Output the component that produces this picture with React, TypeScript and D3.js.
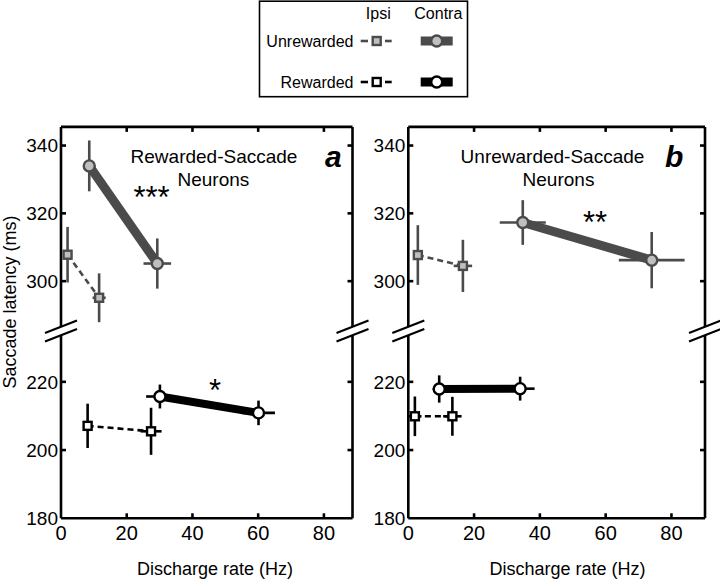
import React from "react";
import * as d3 from "d3";

// ---- data ----
const xTicks = [0, 20, 40, 60, 80];
const yTicks = [180, 200, 220, 300, 320, 340];
const panelLabels = ["a", "b"];
const panelTitles = [["Rewarded-Saccade", "Neurons"], ["Unrewarded-Saccade", "Neurons"]];
const significance = [["***", "*"], ["**", ""]];

// panel a
const aUnrIpsiX = [2.0, 11.6];
const aUnrIpsiY = [307.8, 295.1];
const aUnrIpsiXErr = [1.0, 2.0];
const aUnrIpsiYErr = [8.2, 7.2];
const aUnrConX = [8.6, 29.3];
const aUnrConY = [334.0, 305.2];
const aUnrConXErr = [1.2, 4.2];
const aUnrConYErr = [7.5, 7.4];
const aRewIpsiX = [8.1, 27.4];
const aRewIpsiY = [207.1, 205.5];
const aRewIpsiXErr = [1.0, 3.2];
const aRewIpsiYErr = [6.5, 6.9];
const aRewConX = [30.1, 60.1];
const aRewConY = [215.7, 210.9];
const aRewConXErr = [4.2, 5.0];
const aRewConYErr = [3.5, 3.6];

// panel b
const bUnrIpsiX = [2.9, 16.6];
const bUnrIpsiY = [307.7, 304.5];
const bUnrIpsiXErr = [1.0, 2.8];
const bUnrIpsiYErr = [8.8, 7.7];
const bUnrConX = [34.8, 74.0];
const bUnrConY = [317.3, 306.2];
const bUnrConXErr = [7.0, 10.0];
const bUnrConYErr = [6.6, 8.3];
const bRewIpsiX = [2.0, 13.4];
const bRewIpsiY = [209.9, 209.9];
const bRewIpsiXErr = [2.0, 2.8];
const bRewIpsiYErr = [5.8, 5.7];
const bRewConX = [9.4, 34.0];
const bRewConY = [217.9, 218.0];
const bRewConXErr = [2.0, 4.4];
const bRewConYErr = [4.0, 3.5];

const FONT = "'Liberation Sans', Arial, Helvetica, sans-serif";
const GRAY = "#4b4b4b";
const LIGHT = "#bfbfbf";

type Series = { x: number[]; y: number[]; xe: number[]; ye: number[] };
const mk = (x: number[], y: number[], xe: number[], ye: number[]): Series => ({ x, y, xe, ye });

const panels = [
  {
    xRange: [61, 352.5], xMax: 88.7,
    unrIpsi: mk(aUnrIpsiX, aUnrIpsiY, aUnrIpsiXErr, aUnrIpsiYErr),
    unrCon: mk(aUnrConX, aUnrConY, aUnrConXErr, aUnrConYErr),
    rewIpsi: mk(aRewIpsiX, aRewIpsiY, aRewIpsiXErr, aRewIpsiYErr),
    rewCon: mk(aRewConX, aRewConY, aRewConXErr, aRewConYErr),
    titleX: [214, 213.4], labelX: 325, starPos: [[151.5, 208], [215, 401]], xLabelX: 215,
  },
  {
    xRange: [408.3, 705], xMax: 90.2,
    unrIpsi: mk(bUnrIpsiX, bUnrIpsiY, bUnrIpsiXErr, bUnrIpsiYErr),
    unrCon: mk(bUnrConX, bUnrConY, bUnrConXErr, bUnrConYErr),
    rewIpsi: mk(bRewIpsiX, bRewIpsiY, bRewIpsiXErr, bRewIpsiYErr),
    rewCon: mk(bRewConX, bRewConY, bRewConXErr, bRewConYErr),
    titleX: [552.5, 558.5], labelX: 665, starPos: [[595, 233], [0, 0]], xLabelX: 567.5,
  },
];

const y = d3.scaleLinear().domain([180, 234.9, 285.3, 345.5]).range([518.3, 331, 331, 126.9]);
const yTop = 126.9;
const yBot = 518.3;
const yBreak = 331;

function ErrorBars({ s, x, color }: { s: Series; x: d3.ScaleLinear<number, number>; color: string }) {
  return (
    <g stroke={color} strokeWidth={2.6} fill="none">
      {s.x.map((xv, i) => (
        <g key={i}>
          <line x1={x(xv)} x2={x(xv)} y1={y(s.y[i] - s.ye[i])} y2={y(s.y[i] + s.ye[i])} />
          <line x1={x(xv - s.xe[i])} x2={x(xv + s.xe[i])} y1={y(s.y[i])} y2={y(s.y[i])} />
        </g>
      ))}
    </g>
  );
}

function SeriesLine({ s, x, color, width, dashed }: { s: Series; x: d3.ScaleLinear<number, number>; color: string; width: number; dashed?: boolean }) {
  const gen = d3.line<number>().x((d) => x(d)).y((d, i) => y(s.y[i]));
  return <path d={gen(s.x) || ""} stroke={color} strokeWidth={width} fill="none" strokeDasharray={dashed ? "6,4" : undefined} />;
}

function Squares({ s, x, stroke, fill }: { s: Series; x: d3.ScaleLinear<number, number>; stroke: string; fill: string }) {
  return (
    <g>
      {s.x.map((xv, i) => (
        <rect key={i} x={x(xv) - 4} y={y(s.y[i]) - 4} width={8} height={8} fill={fill} stroke={stroke} strokeWidth={2.4} />
      ))}
    </g>
  );
}

function Circles({ s, x, stroke, fill }: { s: Series; x: d3.ScaleLinear<number, number>; stroke: string; fill: string }) {
  return (
    <g>
      {s.x.map((xv, i) => (
        <circle key={i} cx={x(xv)} cy={y(s.y[i])} r={5.5} fill={fill} stroke={stroke} strokeWidth={2.4} />
      ))}
    </g>
  );
}

function BreakMark({ cx }: { cx: number }) {
  const half = 16;
  const slope = -12.5 / 32;
  const gap = 4.3;
  const pts = (dy: number) => [
    [cx - half, yBreak + dy - slope * half],
    [cx + half, yBreak + dy + slope * half],
  ];
  const up = pts(-gap);
  const lo = pts(gap);
  return (
    <g>
      <polygon points={`${up[0][0]},${up[0][1]} ${up[1][0]},${up[1][1]} ${lo[1][0]},${lo[1][1]} ${lo[0][0]},${lo[0][1]}`} fill="#fff" />
      <line x1={up[0][0]} y1={up[0][1]} x2={up[1][0]} y2={up[1][1]} stroke="#000" strokeWidth={2.2} />
      <line x1={lo[0][0]} y1={lo[0][1]} x2={lo[1][0]} y2={lo[1][1]} stroke="#000" strokeWidth={2.2} />
    </g>
  );
}

function Panel({ p, idx }: { p: (typeof panels)[number]; idx: number }) {
  const x = d3.scaleLinear().domain([0, p.xMax]).range(p.xRange);
  const L = p.xRange[0];
  const R = p.xRange[1];
  const tl = 5;
  return (
    <g>
      <g stroke="#000" strokeWidth={2.6} fill="none">
        <line x1={L} x2={R} y1={yTop} y2={yTop} />
        <line x1={L} x2={R} y1={yBot} y2={yBot} />
        <line x1={L} x2={L} y1={yTop} y2={yBot} />
        <line x1={R} x2={R} y1={yTop} y2={yBot} />
        {xTicks.filter((t) => t > 0).map((t) => (
          <g key={t}>
            <line x1={x(t)} x2={x(t)} y1={yBot} y2={yBot - tl} />
            <line x1={x(t)} x2={x(t)} y1={yTop} y2={yTop + tl} />
          </g>
        ))}
        {yTicks.filter((t) => t > 180).map((t) => (
          <g key={t}>
            <line x1={L} x2={L + tl} y1={y(t)} y2={y(t)} />
            <line x1={R} x2={R - tl} y1={y(t)} y2={y(t)} />
          </g>
        ))}
      </g>
      <BreakMark cx={L} />
      <BreakMark cx={R} />
      <g fontFamily={FONT} fill="#000">
        {xTicks.map((t) => (
          <text key={t} x={x(t)} y={539.5} textAnchor="middle" fontSize={20}>{t}</text>
        ))}
        {yTicks.map((t) => (
          <text key={t} x={L - 3} y={y(t) + 6.8} textAnchor="end" fontSize={19}>{t}</text>
        ))}
      </g>
      <text x={p.xLabelX} y={575} fontFamily={FONT} fontSize={18} textAnchor="middle">Discharge rate (Hz)</text>
      <g fontFamily={FONT} fontSize={19} textAnchor="middle">
        <text x={p.titleX[0]} y={162.7}>{panelTitles[idx][0]}</text>
        <text x={p.titleX[1]} y={186}>{panelTitles[idx][1]}</text>
      </g>
      <text x={p.labelX} y={167} fontFamily={FONT} fontSize={30} fontWeight="bold" fontStyle="italic">{panelLabels[idx]}</text>
      <ErrorBars s={p.unrIpsi} x={x} color={GRAY} />
      <ErrorBars s={p.unrCon} x={x} color={GRAY} />
      <ErrorBars s={p.rewIpsi} x={x} color="#000" />
      <ErrorBars s={p.rewCon} x={x} color="#000" />
      <SeriesLine s={p.unrIpsi} x={x} color={GRAY} width={2.6} dashed />
      <SeriesLine s={p.rewIpsi} x={x} color="#000" width={2.6} dashed />
      <SeriesLine s={p.unrCon} x={x} color={GRAY} width={9} />
      <SeriesLine s={p.rewCon} x={x} color="#000" width={8} />
      <Squares s={p.unrIpsi} x={x} stroke={GRAY} fill={LIGHT} />
      <Squares s={p.rewIpsi} x={x} stroke="#000" fill="#fff" />
      <Circles s={p.unrCon} x={x} stroke={GRAY} fill={LIGHT} />
      <Circles s={p.rewCon} x={x} stroke="#000" fill="#fff" />
      <g fontFamily={FONT} fontSize={31} textAnchor="middle">
        {significance[idx].map((s, i) => s ? (
          <text key={i} x={p.starPos[i][0]} y={p.starPos[i][1]}>{s}</text>
        ) : null)}
      </g>
    </g>
  );
}

function Legend() {
  const rows = [
    { label: "Unrewarded", yy: 41, c: GRAY, f: LIGHT },
    { label: "Rewarded", yy: 82, c: "#000", f: "#fff" },
  ];
  return (
    <g>
      <rect x={259.5} y={1.2} width={208} height={95.5} fill="#fff" stroke="#000" strokeWidth={1.6} />
      <g fontFamily={FONT} fontSize={16} textAnchor="middle">
        <text x={378.3} y={19}>Ipsi</text>
        <text x={438.3} y={19}>Contra</text>
      </g>
      {rows.map((r) => (
        <g key={r.label}>
          <text x={353.5} y={r.yy + 5.7} fontFamily={FONT} fontSize={16} textAnchor="end">{r.label}</text>
          <line x1={360.7} x2={368} y1={r.yy} y2={r.yy} stroke={r.c} strokeWidth={2.6} />
          <line x1={385} x2={391.7} y1={r.yy} y2={r.yy} stroke={r.c} strokeWidth={2.6} />
          <rect x={372.7} y={r.yy - 4} width={8} height={8} fill={r.f} stroke={r.c} strokeWidth={2.4} />
          <line x1={420.7} x2={452.7} y1={r.yy} y2={r.yy} stroke={r.c} strokeWidth={9} />
          <circle cx={436.7} cy={r.yy} r={5.5} fill={r.f} stroke={r.c} strokeWidth={2.4} />
        </g>
      ))}
    </g>
  );
}

export default function App() {
  return (
    <svg width={720} height={579} style={{ position: "absolute", left: 0, top: 0, background: "#fff" }}>
      <rect width={720} height={579} fill="#fff" />
      <Legend />
      {panels.map((p, i) => (
        <Panel key={i} p={p} idx={i} />
      ))}
      <text transform="translate(16,302) rotate(-90)" fontFamily={FONT} fontSize={18} textAnchor="middle">Saccade latency (ms)</text>
    </svg>
  );
}
